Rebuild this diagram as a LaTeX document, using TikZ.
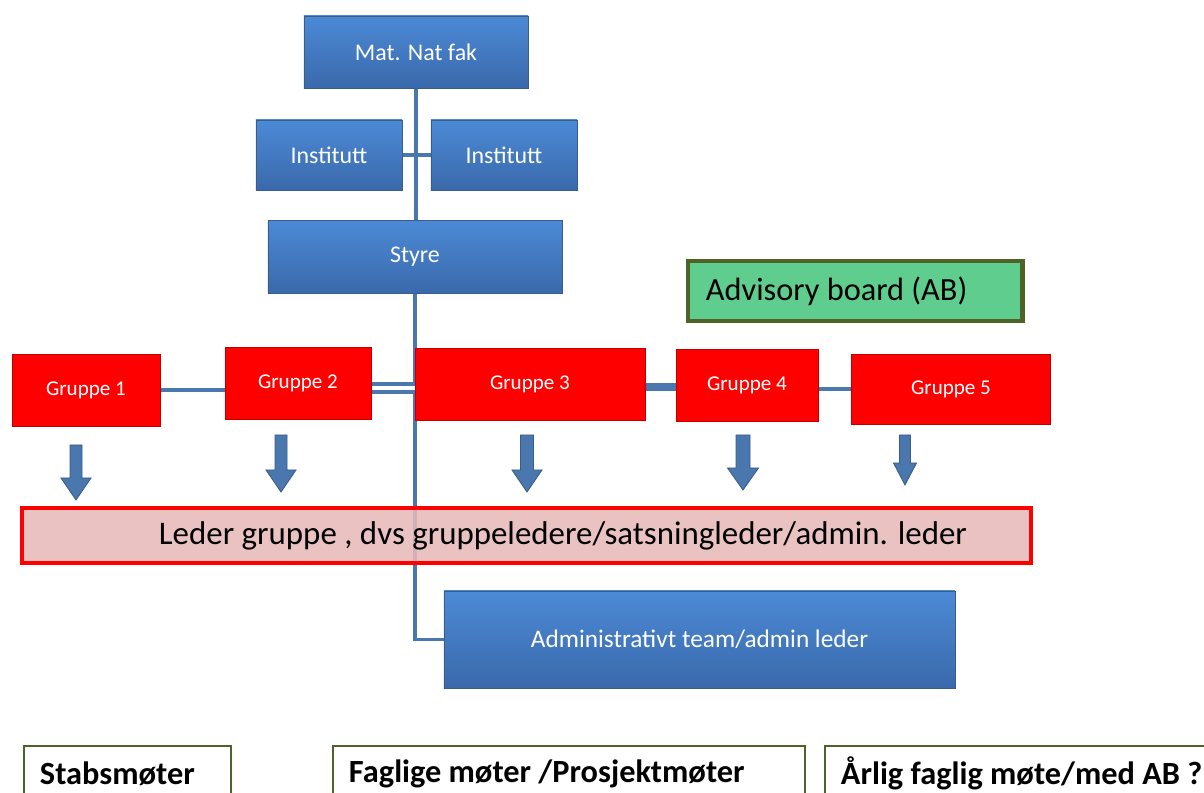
\documentclass[tikz,border=0pt]{standalone}
\usepackage{fontspec}
\setmainfont{Carlito}
\usepackage{xcolor}
\usetikzlibrary{positioning, backgrounds}

\definecolor{blueTop}{HTML}{4C8AD6}
\definecolor{blueBot}{HTML}{3A69AB}
\definecolor{blueEdge}{HTML}{385D8A}
\definecolor{linkBlue}{HTML}{4A77AD}
\definecolor{redEdge}{HTML}{C00000}
\definecolor{pinkFill}{HTML}{E6B9B8}
\definecolor{advGreen}{HTML}{5FCD8E}
\definecolor{oliveEdge}{HTML}{4F6228}

\begin{document}
\begin{tikzpicture}[
    x=0.025cm, y=-0.025cm,
    blockbox/.style={draw=blueEdge, top color=blueTop, bottom color=blueBot, inner sep=0pt, outer sep=0pt, text=white, font=\fontsize{17}{20}\selectfont},
    gruppe/.style={draw=redEdge, fill=red, inner sep=0pt, outer sep=0pt, minimum height=1.8cm, text=white, font=\fontsize{15}{18}\selectfont},
    link/.style={draw=linkBlue, line width=2.2pt},
    meetbox/.style={draw=oliveEdge, line width=1.4pt, anchor=north west, inner xsep=0.4cm, inner ysep=0pt, minimum height=1.375cm, align=flush left, font=\fontsize{23}{26}\selectfont\bfseries},
    downarrow/.style={fill=linkBlue, draw=blueEdge, line width=0.6pt},
]
\useasboundingbox (0,0) rectangle (1204,793);

% Top of the hierarchy
\node[blockbox, minimum width=5.6cm, minimum height=1.8cm] (matnat) at (416,52) {Mat. Nat fak};
\node[blockbox, minimum width=3.65cm, minimum height=1.75cm] (inst1) at (329,155) {Institutt};
\node[blockbox, minimum width=3.65cm, minimum height=1.75cm] (inst2) at (504,155) {Institutt};
\node[blockbox, minimum width=7.35cm, minimum height=1.825cm] (styre) at (415,257) {Styre};

% Advisory board
\node[draw=oliveEdge, fill=advGreen, line width=3.5pt, inner xsep=0.45cm, inner ysep=0pt, text width=7.45cm, minimum height=1.5cm, align=flush left, font=\fontsize{23}{26}\selectfont] (adv) at (855,291) {Advisory board (AB)};

% Research groups
\node[gruppe, minimum width=3.7cm] (g1) at (86,390) {Gruppe 1};
\node[gruppe, minimum width=3.65cm] (g2) at (298,383) {Gruppe 2};
\node[gruppe, minimum width=5.75cm] (g3) at (530,384) {Gruppe 3};
\node[gruppe, minimum width=3.55cm] (g4) at (747,385) {Gruppe 4};
\node[gruppe, minimum width=4.975cm, minimum height=1.75cm] (g5) at (951,389) {Gruppe 5};

% Leader group and administration
\node[draw=red, line width=3pt, fill=pinkFill, fill opacity=0.88, text opacity=1, inner xsep=0pt, inner ysep=0pt, text width=25.225cm, minimum height=1.375cm, align=flush left, font=\fontsize{23.4}{26}\selectfont] (leder) at (526.5,535.5) {\hspace*{3.425cm}Leder gruppe , dvs gruppeledere/satsningleder/admin. leder};
\node[blockbox, minimum width=12.775cm, minimum height=2.425cm, font=\fontsize{18}{21}\selectfont] (admin) at (699.5,639.5) {Administrativt team/admin  leder};

% Meetings
\node[meetbox, text width=4.375cm] (stab) at (23,745) {Stabsmøter};
\node[meetbox, text width=11cm] (faglig) at (332,745) {Faglige møter /Prosjektmøter};
\node[meetbox, text width=10.5cm] (aarlig) at (824,745) {Årlig faglig møte/med AB ?};

% Connectors behind the boxes
\begin{scope}[on background layer]
\draw[link] (matnat.south) -- (matnat.south |- styre.north);
\draw[link, line width=3.5pt] (inst1.east) -- (inst2.west);
\draw[link] (styre.south) -- (styre.south |- admin.west) -- (admin.west);
\draw[link, line width=3pt] (g1.east) -- (g1.east -| g2.west);
\draw[link, line width=2.6pt, double=white, double distance=3pt] ([yshift=-1.25mm]g2.east) -- ([yshift=-1.25mm]g2.east -| g3.west);
\draw[link, line width=5.5pt] ([yshift=-0.75mm]g3.east) -- ([yshift=-0.75mm]g3.east -| g4.west);
\draw[link, line width=2.6pt] (g5.west -| g4.east) -- (g5.west);
\end{scope}

% Block arrows down to the leader group
\foreach \cx/\yt/\yb/\sw/\hw in {76/445/500/6/15, 281/435/492/6/15, 527/435/492/6.5/15, 743/435/490/7/15.5, 905/435/485/5.5/11.5}
  \draw[downarrow] (\cx-\sw,\yt) -- (\cx+\sw,\yt) -- (\cx+\sw,\yb-22) -- (\cx+\hw,\yb-22)
      -- (\cx,\yb) -- (\cx-\hw,\yb-22) -- (\cx-\sw,\yb-22) -- cycle;

\end{tikzpicture}
\end{document}
